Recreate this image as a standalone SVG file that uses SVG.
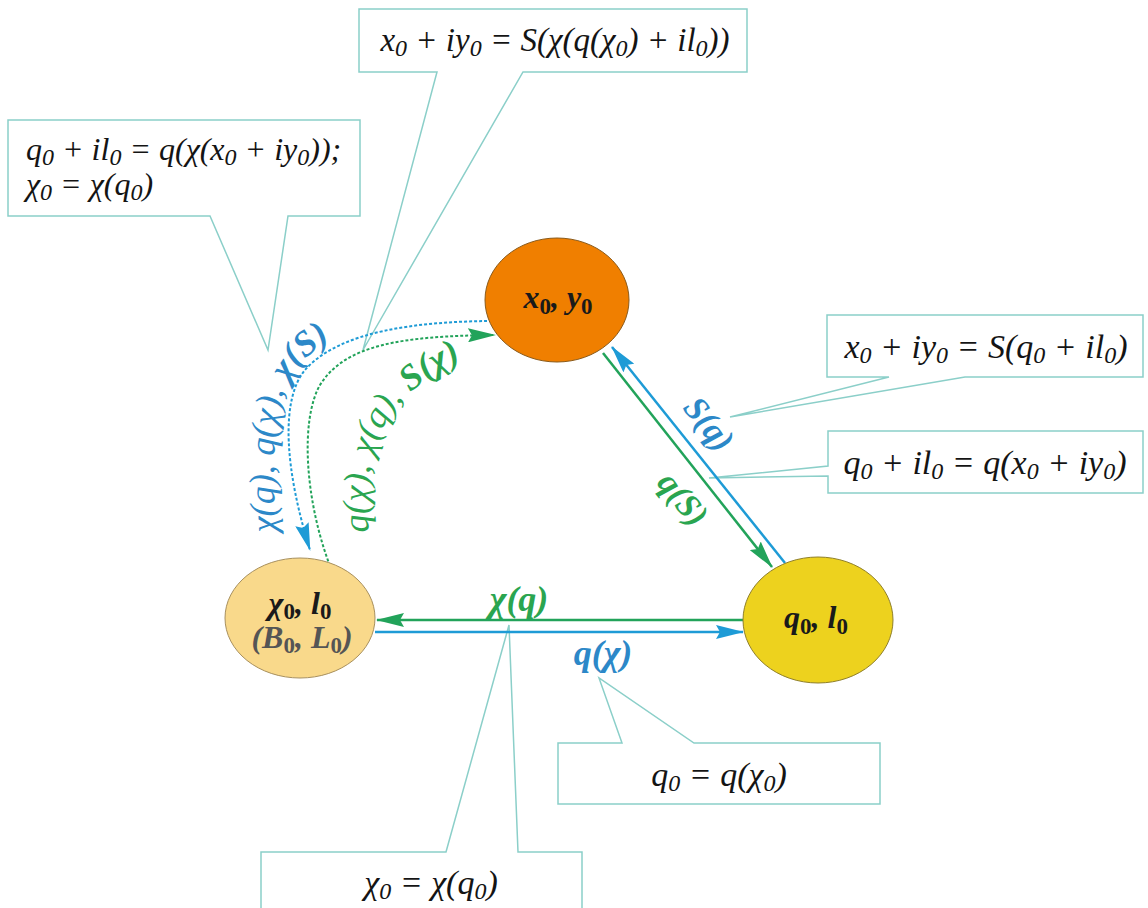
<svg xmlns="http://www.w3.org/2000/svg" width="1148" height="908" viewBox="0 0 1148 908">
<style>
.box{fill:#fff;stroke:#8BCFC9;stroke-width:1.5;stroke-linejoin:miter}
.eq{font-family:"Liberation Serif","DejaVu Serif",serif;font-style:italic;font-size:34px;fill:#141414}
.sb{font-size:24px}
.nt{font-family:"Liberation Serif","DejaVu Serif",serif;font-style:italic;font-weight:bold;font-size:32px;fill:#1a1a1a}
.ns{font-size:23px;font-style:normal}
.lab{font-family:"Liberation Serif","DejaVu Serif",serif;font-style:italic;font-size:36px}
.bold{font-weight:bold}
.cb{fill:#2C88C8}
.cg{fill:#2AA550}
.lg{stroke:#22A35A;stroke-width:2.5;fill:none}
.lbl{stroke:#1E9BD6;stroke-width:2.5;fill:none}
.dg{stroke:#22A35A;stroke-width:2;fill:none;stroke-dasharray:3 2}
.db{stroke:#1E9BD6;stroke-width:2;fill:none;stroke-dasharray:3 2}
</style>
<defs>
<marker id="ahG" markerUnits="userSpaceOnUse" markerWidth="28" markerHeight="14" refX="27" refY="7" orient="auto">
<path d="M0,0 L28,7 L0,14 L4,7 Z" fill="#22A35A"/>
</marker>
<marker id="ahB" markerUnits="userSpaceOnUse" markerWidth="28" markerHeight="14" refX="27" refY="7" orient="auto">
<path d="M0,0 L28,7 L0,14 L4,7 Z" fill="#1E9BD6"/>
</marker>
<path id="pBlue" d="M276,536 C272,470 274,420 283,394 C291,370 310,350 338,336 C358,327 380,321 405,317"/>
<path id="pGreen" d="M369,534 C361,440 384,386 495,346"/>
</defs>

<g id="callouts">
<g id="callout-top">
<path class="box" d="M359,9 H747 V72 H523 L363,350 L437,72 H359 Z"/>
<text class="eq" x="555" y="51" text-anchor="middle" style="font-size:33px">x<tspan class="sb" dy="5">0</tspan><tspan dy="-5"> + iy</tspan><tspan class="sb" dy="5">0</tspan><tspan dy="-5"> = S(χ(q(χ</tspan><tspan class="sb" dy="5">0</tspan><tspan dy="-5">) + il</tspan><tspan class="sb" dy="5">0</tspan><tspan dy="-5">))</tspan></text>
</g>
<g id="callout-left">
<path class="box" d="M8,120 H360 V216 H288 L268,350 L210,216 H8 Z"/>
<text class="eq" x="26" y="160" style="font-size:32px">q<tspan class="sb" dy="5">0</tspan><tspan dy="-5"> + il</tspan><tspan class="sb" dy="5">0</tspan><tspan dy="-5"> = q(χ(x</tspan><tspan class="sb" dy="5">0</tspan><tspan dy="-5"> + iy</tspan><tspan class="sb" dy="5">0</tspan><tspan dy="-5">));</tspan></text>
<text class="eq" x="26" y="195" style="font-size:32px">χ<tspan class="sb" dy="5">0</tspan><tspan dy="-5"> = χ(q</tspan><tspan class="sb" dy="5">0</tspan><tspan dy="-5">)</tspan></text>
</g>
<g id="callout-right1">
<path class="box" d="M827,315 H1143 V377 H965 L730,417 L889,377 H827 Z"/>
<text class="eq" x="986" y="358" text-anchor="middle">x<tspan class="sb" dy="5">0</tspan><tspan dy="-5"> + iy</tspan><tspan class="sb" dy="5">0</tspan><tspan dy="-5"> = S(q</tspan><tspan class="sb" dy="5">0</tspan><tspan dy="-5"> + il</tspan><tspan class="sb" dy="5">0</tspan><tspan dy="-5">)</tspan></text>
</g>
<g id="callout-right2">
<path class="box" d="M828,431 H1143 V493 H828 V476 L709,478 L828,466 Z"/>
<text class="eq" x="985" y="474" text-anchor="middle">q<tspan class="sb" dy="5">0</tspan><tspan dy="-5"> + il</tspan><tspan class="sb" dy="5">0</tspan><tspan dy="-5"> = q(x</tspan><tspan class="sb" dy="5">0</tspan><tspan dy="-5"> + iy</tspan><tspan class="sb" dy="5">0</tspan><tspan dy="-5">)</tspan></text>
</g>
<g id="callout-q">
<path class="box" d="M558,743 H622 L599,678 L694,743 H880 V804 H558 Z"/>
<text class="eq" x="719" y="786" text-anchor="middle">q<tspan class="sb" dy="5">0</tspan><tspan dy="-5"> = q(χ</tspan><tspan class="sb" dy="5">0</tspan><tspan dy="-5">)</tspan></text>
</g>
<g id="callout-chi">
<path class="box" d="M261,852 H446 L509,625 L518,852 H582 V915 H261 Z"/>
<text class="eq" x="431" y="894" text-anchor="middle">χ<tspan class="sb" dy="5">0</tspan><tspan dy="-5"> = χ(q</tspan><tspan class="sb" dy="5">0</tspan><tspan dy="-5">)</tspan></text>
</g>
</g>

<g id="connectors">
<path class="lg" d="M743,620 L377,620" marker-end="url(#ahG)"/>
<path class="lbl" d="M375,632 L743,632" marker-end="url(#ahB)"/>
<path class="lbl" d="M785,563 L612,347" marker-end="url(#ahB)"/>
<path class="lg" d="M603,353 L772,567" marker-end="url(#ahG)"/>
<path class="db" d="M487,321 C420,322 340,330 305,370 C280,400 285,470 310,550" marker-end="url(#ahB)"/>
<path class="dg" d="M330,566 C305,500 300,420 320,385 C345,345 400,336 495,335" marker-end="url(#ahG)"/>
</g>

<g id="node-xy">
<ellipse cx="557" cy="300" rx="72" ry="62" fill="#F07F00" stroke="#8A5A1A" stroke-width="1"/>
<text class="nt" x="558" y="308" text-anchor="middle">x<tspan class="ns" dy="6">0</tspan><tspan dy="-6">, y</tspan><tspan class="ns" dy="6">0</tspan></text>
</g>
<g id="node-chi">
<ellipse cx="300" cy="618" rx="75" ry="60" fill="#F9D98B" stroke="#A8905E" stroke-width="1"/>
<text class="nt" x="300" y="614" text-anchor="middle">χ<tspan class="ns" dy="5">0</tspan><tspan dy="-5">, l</tspan><tspan class="ns" dy="5">0</tspan></text>
<text class="nt" x="302" y="648" text-anchor="middle" style="fill:#555">(B<tspan class="ns" dy="5">0</tspan><tspan dy="-5">, L</tspan><tspan class="ns" dy="5">0</tspan><tspan dy="-5">)</tspan></text>
</g>
<g id="node-q">
<ellipse cx="818" cy="620" rx="75" ry="63" fill="#EDD21E" stroke="#8F7F2A" stroke-width="1"/>
<text class="nt" x="816" y="628" text-anchor="middle">q<tspan class="ns" dy="6">0</tspan><tspan dy="-6">, l</tspan><tspan class="ns" dy="6">0</tspan></text>
</g>

<g id="labels">
<text class="lab bold cg" x="519" y="611" text-anchor="middle">χ(q)</text>
<text class="lab bold cb" x="603" y="665" text-anchor="middle">q(χ)</text>
<text class="lab bold cb" transform="translate(709,424) rotate(51)" text-anchor="middle" y="11" style="font-size:34px">S(q)</text>
<text class="lab bold cg" transform="translate(683,499) rotate(51)" text-anchor="middle" y="11" style="font-size:34px">q(S)</text>
<text class="lab cb"><textPath href="#pBlue" startOffset="4">χ(q), q(χ), <tspan class="bold">χ(S)</tspan></textPath></text>
<text class="lab cg"><textPath href="#pGreen" startOffset="2">q(χ), χ(q), <tspan class="bold">S(χ)</tspan></textPath></text>
</g>
</svg>
